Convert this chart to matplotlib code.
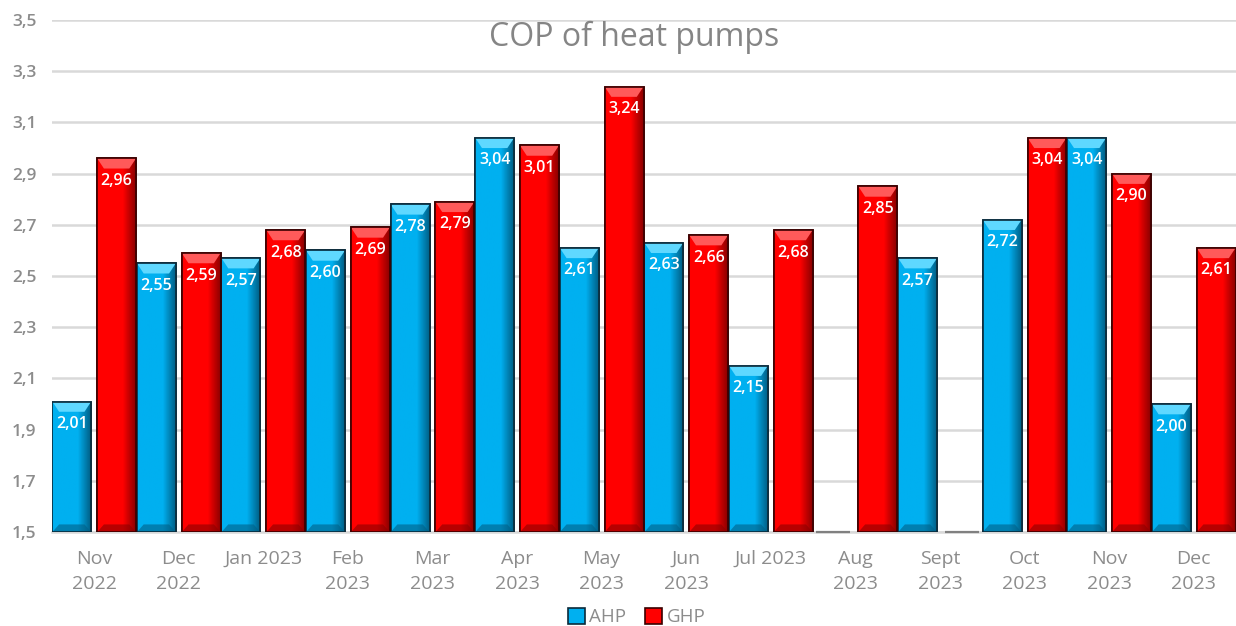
import numpy as np
import matplotlib
matplotlib.use("Agg")
import matplotlib.pyplot as plt
from matplotlib.ticker import FuncFormatter
from matplotlib.colors import LinearSegmentedColormap

months = ["Nov\n2022", "Dec\n2022", "Jan 2023", "Feb\n2023", "Mar\n2023", "Apr\n2023",
          "May\n2023", "Jun\n2023", "Jul 2023", "Aug\n2023", "Sept\n2023", "Oct\n2023",
          "Nov\n2023", "Dec\n2023"]
ahp = [2.01, 2.55, 2.57, 2.60, 2.78, 3.04, 2.61, 2.63, 2.15, np.nan, 2.57, 2.72, 3.04, 2.00]
ghp = [2.96, 2.59, 2.68, 2.69, 2.79, 3.01, 3.24, 2.66, 2.68, 2.85, np.nan, 3.04, 2.90, 2.61]

plt.rcParams['font.family'] = ['Open Sans', 'DejaVu Sans']
grey = '#8c8c8c'

fig = plt.figure(figsize=(12.36, 6.26), dpi=100)
ax = fig.add_axes([0.042, 0.150, 0.958, 0.818])

x = np.arange(len(months))
w = 0.46
off = 0.265
base = 1.5


def shaded(vals, pos, face, dark, light, edge):
    # bars with a simple bevel look: gradient across, light top, dark right side
    cmap = LinearSegmentedColormap.from_list('b', [face, face, face, dark])
    grad = np.linspace(0, 1, 64).reshape(1, -1)
    bars = ax.bar(pos, np.nan_to_num(np.array(vals) - base), w, bottom=base,
                  color=face, edgecolor=edge, linewidth=1.2, zorder=3)
    for b, v in zip(bars, vals):
        cx = b.get_x() + b.get_width() / 2
        if np.isnan(v):
            b.set_visible(False)
            # empty month: thin flat line on the baseline
            ax.hlines(base, cx - w / 2 + 0.03, cx + w / 2 - 0.03, color='#808080',
                      lw=1.6, zorder=4, clip_on=False)
            continue
        x0, x1 = b.get_x(), b.get_x() + b.get_width()
        im = ax.imshow(grad, cmap=cmap, extent=[x0, x1, base, v], aspect='auto',
                       zorder=3.5, interpolation='bilinear')
        im.set_clip_path(b)
        ax.fill([x0, x1, x1 - 0.08, x0 + 0.08], [v, v, v - 0.04, v - 0.04],
                color=light, zorder=3.6, lw=0)
        ax.fill([x0, x1, x1 - 0.08, x0 + 0.08], [base, base, base + 0.03, base + 0.03],
                color=dark, zorder=3.6, lw=0, alpha=0.6)
        ax.bar(cx, v - base, w, bottom=base, facecolor='none', edgecolor=edge,
               linewidth=1.2, zorder=3.8)
        ax.text(cx, v - 0.088, f"{v:.2f}".replace('.', ','),
                ha='center', va='center', color='white', fontsize=11.5,
                fontweight='semibold', zorder=5)
    return bars


b1 = shaded(ahp, x - off, '#00b0f0', '#005f86', '#5fd8ff', '#0b2a3a')
b2 = shaded(ghp, x + off, '#ff0000', '#8a0000', '#ff5a5a', '#3a0000')

ax.set_xlim(-0.5, len(months) - 0.5)
ax.set_ylim(1.5, 3.5)
ax.set_yticks(np.arange(1.5, 3.51, 0.2))
ax.yaxis.set_major_formatter(FuncFormatter(lambda v, p: f"{v:.1f}".replace('.', ',')))
ax.set_xticks(x)
ax.set_xticklabels(months, va='top', linespacing=1.5)
ax.tick_params(axis='both', length=0, colors=grey)
ax.tick_params(axis='x', pad=13, labelsize=14)
ax.tick_params(axis='y', pad=11, labelsize=12.5)
for t in ax.get_yticklabels():
    t.set_fontweight('semibold')
ax.grid(axis='y', color='#d9d9d9', lw=1.8, zorder=0)
ax.set_axisbelow(True)
for s in ['top', 'right', 'left']:
    ax.spines[s].set_visible(False)
ax.spines['bottom'].set_color('#d9d9d9')
ax.spines['bottom'].set_linewidth(1.8)

fig.text(0.513, 0.941, "COP of heat pumps", ha='center', va='center', color='#858585',
         fontsize=23)

h1 = plt.Rectangle((0, 0), 1, 1, facecolor='#00b0f0', edgecolor='#0b2a3a', lw=1.2)
h2 = plt.Rectangle((0, 0), 1, 1, facecolor='#ff0000', edgecolor='#3a0000', lw=1.2)
fig.legend([h1, h2], ['AHP', 'GHP'], loc='center', bbox_to_anchor=(0.515, 0.014),
           ncol=2, frameon=False, fontsize=13.5, labelcolor=grey, handlelength=0.9,
           handleheight=0.9, handletextpad=0.25, columnspacing=1.0)

fig.savefig("out.png", dpi=100)
